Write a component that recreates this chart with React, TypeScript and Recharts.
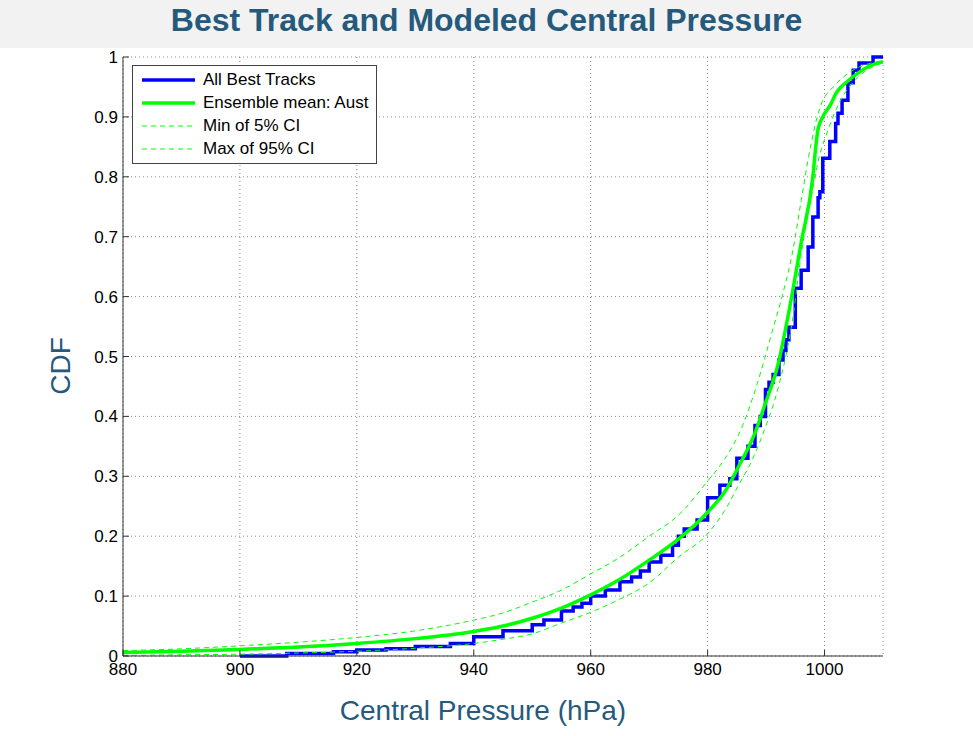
import React from 'react';
import { LineChart, Line, XAxis, YAxis, CartesianGrid } from 'recharts';

// Empirical CDF of all best tracks (step function: value holds from pressure onwards)
const bestTrackP = [900, 908, 916, 920, 925, 930, 936, 940, 945, 950, 952, 955, 957, 958.5, 960, 962.5, 965, 967, 968.5, 970, 972, 974, 975, 976, 978.2, 980, 982.1, 983.8, 985, 986.9, 988.1, 989, 989.9, 990.5, 991.2, 992.2, 992.9, 993.4, 993.9, 995, 996, 997.2, 998, 998.9, 999.2, 999.7, 1000.9, 1001.9, 1002.3, 1003, 1004, 1004.9, 1005.9, 1008.3, 1010];
const bestTrackCdf = [0.0, 0.004, 0.007, 0.010, 0.012, 0.016, 0.021, 0.032, 0.042, 0.052, 0.060, 0.075, 0.082, 0.088, 0.100, 0.110, 0.124, 0.132, 0.142, 0.157, 0.168, 0.185, 0.200, 0.212, 0.227, 0.264, 0.285, 0.296, 0.330, 0.350, 0.385, 0.400, 0.445, 0.457, 0.470, 0.494, 0.510, 0.528, 0.549, 0.614, 0.644, 0.683, 0.733, 0.765, 0.775, 0.831, 0.859, 0.889, 0.906, 0.928, 0.957, 0.978, 0.990, 1.0, 1.0];

// Ensemble mean (Aust)
const meanP = [880, 890, 900, 910, 920, 930, 940, 945, 950, 955, 960, 965, 970, 975, 980, 983, 985.5, 988, 990, 992, 994, 996, 998, 998.5, 998.9, 999.7, 1001, 1002, 1004, 1005, 1007.3, 1010];
const meanCdf = [0.006, 0.008, 0.011, 0.015, 0.021, 0.029, 0.041, 0.050, 0.063, 0.080, 0.102, 0.128, 0.160, 0.195, 0.240, 0.275, 0.320, 0.370, 0.425, 0.485, 0.580, 0.690, 0.800, 0.850, 0.880, 0.900, 0.920, 0.940, 0.960, 0.968, 0.983, 0.992];

// Min of 5% CI
const minP = [880, 890, 900, 910, 920, 930, 940, 945, 950, 955, 960, 965, 970, 975, 980, 983.3, 985.5, 987, 990, 992, 994.6, 996, 998, 999, 1000.4, 1002.6, 1005.6, 1008.5, 1010];
const minCdf = [0.001, 0.002, 0.003, 0.005, 0.008, 0.013, 0.021, 0.028, 0.037, 0.055, 0.073, 0.095, 0.122, 0.165, 0.204, 0.249, 0.289, 0.315, 0.385, 0.445, 0.566, 0.670, 0.780, 0.830, 0.873, 0.925, 0.965, 0.985, 0.990];

// Max of 95% CI
const maxP = [880, 890, 900, 910, 920, 930, 940, 945, 950, 955, 960, 965, 970, 975, 980, 983, 986, 988.5, 991, 993, 994.6, 996, 997.5, 999.2, 1002, 1004.9, 1008, 1010];
const maxCdf = [0.009, 0.012, 0.017, 0.023, 0.031, 0.042, 0.060, 0.072, 0.090, 0.110, 0.137, 0.165, 0.200, 0.235, 0.292, 0.330, 0.385, 0.455, 0.540, 0.610, 0.678, 0.760, 0.845, 0.915, 0.955, 0.978, 0.990, 0.994];

const xTicks = [880, 900, 920, 940, 960, 980, 1000];
const yTicks = [0, 0.1, 0.2, 0.3, 0.4, 0.5, 0.6, 0.7, 0.8, 0.9, 1];
const yTickLabels = ['0', '0.1', '0.2', '0.3', '0.4', '0.5', '0.6', '0.7', '0.8', '0.9', '1'];

const legendItems = [
  { name: 'All Best Tracks', color: '#0000ff', width: 3.5, dash: undefined },
  { name: 'Ensemble mean: Aust', color: '#00ff00', width: 3.5, dash: undefined },
  { name: 'Min of 5% CI', color: '#00ff00', width: 1, dash: '5 4' },
  { name: 'Max of 95% CI', color: '#00ff00', width: 1, dash: '5 4' },
];

const zip = (xs: number[], ys: number[]) => xs.map((p, i) => ({ p, v: ys[i] }));
const bestData = zip(bestTrackP, bestTrackCdf);
const meanData = zip(meanP, meanCdf);
const minData = zip(minP, minCdf);
const maxData = zip(maxP, maxCdf);

const FONT = 'Arial, "Liberation Sans", sans-serif';
const LABEL_COLOR = '#255a7c';

const LegendBox = () => (
  <div
    style={{
      position: 'absolute',
      left: 132,
      top: 65,
      width: 243,
      height: 94,
      border: '1px solid #444',
      background: '#fff',
      fontFamily: FONT,
      fontSize: 17,
      color: '#000',
      boxSizing: 'content-box',
      paddingTop: 3,
    }}
  >
    {legendItems.map((it) => (
      <div key={it.name} style={{ display: 'flex', alignItems: 'center', height: 22.8, whiteSpace: 'nowrap' }}>
        <svg width={70} height={10} style={{ flex: 'none' }}>
          <line x1={9} x2={62} y1={5} y2={5} stroke={it.color} strokeWidth={it.width} strokeDasharray={it.dash} />
        </svg>
        <span style={{ lineHeight: '20px' }}>{it.name}</span>
      </div>
    ))}
  </div>
);

export default function App() {
  return (
    <div style={{ position: 'absolute', left: 0, top: 0, width: 973, height: 736, background: '#fff', fontFamily: FONT }}>
      <div
        style={{
          position: 'absolute',
          left: 0,
          top: 0,
          width: 973,
          height: 48,
          background: '#f2f2f2',
          textAlign: 'center',
          fontWeight: 'bold',
          fontSize: 32,
          lineHeight: '40px',
          color: LABEL_COLOR,
        }}
      >
        Best Track and Modeled Central Pressure
      </div>
      <div style={{ position: 'absolute', left: 0, top: 0 }}>
        <LineChart width={973} height={736} margin={{ top: 57, right: 90, left: 63, bottom: 50 }}>
          <CartesianGrid stroke="#8a8a8a" strokeDasharray="1 3" />
          <XAxis
            type="number"
            dataKey="p"
            domain={[880, 1010]}
            ticks={xTicks}
            allowDataOverflow
            height={30}
            tickSize={-6}
            tickMargin={13}
            axisLine={{ stroke: '#333' }}
            tickLine={{ stroke: '#333' }}
            tick={{ fill: '#000', fontSize: 17, fontFamily: FONT }}
          />
          <YAxis
            type="number"
            dataKey="v"
            domain={[0, 1]}
            ticks={yTicks}
            width={60}
            tickSize={-6}
            tickMargin={11}
            tickFormatter={(v: number) => yTickLabels[Math.round(v * 10)]}
            axisLine={{ stroke: '#333' }}
            tickLine={{ stroke: '#333' }}
            tick={{ fill: '#000', fontSize: 17, fontFamily: FONT }}
          />
          <Line data={bestData} dataKey="v" type="stepAfter" stroke="#0000ff" strokeWidth={3.5} dot={false} isAnimationActive={false} />
          <Line data={meanData} dataKey="v" type="monotone" stroke="#00ff00" strokeWidth={3.5} dot={false} isAnimationActive={false} />
          <Line data={minData} dataKey="v" type="monotone" stroke="#00ff00" strokeWidth={1} strokeDasharray="5 4" dot={false} isAnimationActive={false} />
          <Line data={maxData} dataKey="v" type="monotone" stroke="#00ff00" strokeWidth={1} strokeDasharray="5 4" dot={false} isAnimationActive={false} />
        </LineChart>
      </div>
      <LegendBox />
      <div
        style={{
          position: 'absolute',
          left: 0,
          top: 694,
          width: 966,
          textAlign: 'center',
          fontSize: 28,
          lineHeight: '34px',
          color: LABEL_COLOR,
        }}
      >
        Central Pressure (hPa)
      </div>
      <div
        style={{
          position: 'absolute',
          left: 61 - 60,
          top: 366 - 17,
          width: 120,
          height: 34,
          lineHeight: '34px',
          textAlign: 'center',
          fontSize: 28,
          color: LABEL_COLOR,
          transform: 'rotate(-90deg)',
          transformOrigin: '60px 17px',
        }}
      >
        CDF
      </div>
    </div>
  );
}
